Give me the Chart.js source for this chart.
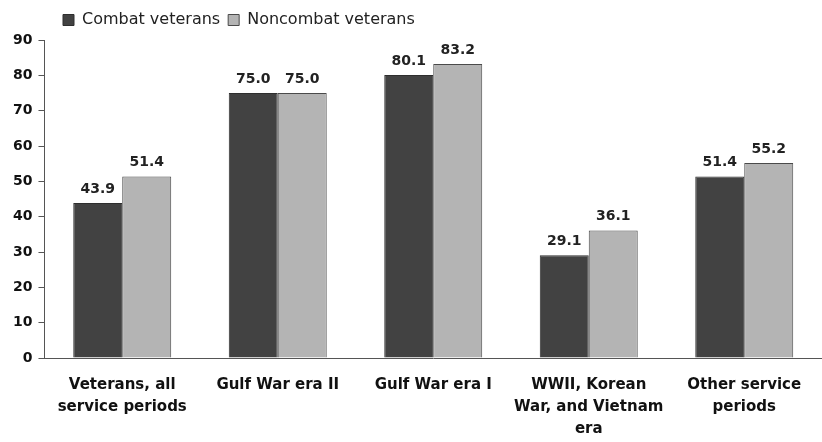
<!DOCTYPE html>
<html>
<head>
<meta charset="utf-8">
<script src="https://cdn.jsdelivr.net/npm/chart.js@4.4.1/dist/chart.umd.min.js"></script>
<style>
  html, body { margin: 0; padding: 0; background: #fff; }
  #wrap { width: 822px; height: 442px; }
</style>
</head>
<body>
<div id="wrap"><canvas id="myChart" width="822" height="442"></canvas></div>
<script>
// data
const categories = [
  ["Veterans, all", "service periods"],
  "Gulf War era II",
  "Gulf War era I",
  ["WWII, Korean", "War, and Vietnam", "era"],
  ["Other service", "periods"]
];
const combat = [43.9, 75.0, 80.1, 29.1, 51.4];
const noncombat = [51.4, 75.0, 83.2, 36.1, 55.2];
const yTicks = [0, 10, 20, 30, 40, 50, 60, 70, 80, 90];

// value labels above each bar
const valueLabels = {
  id: 'valueLabels',
  afterDatasetsDraw(chart) {
    const ctx = chart.ctx;
    ctx.save();
    ctx.font = 'bold 14px "DejaVu Sans"';
    ctx.fillStyle = '#222';
    ctx.textAlign = 'center';
    ctx.textBaseline = 'bottom';
    chart.data.datasets.forEach((ds, i) => {
      chart.getDatasetMeta(i).data.forEach((bar, j) => {
        ctx.fillText(ds.data[j].toFixed(1), bar.x, bar.y - 7);
      });
    });
    ctx.restore();
  }
};

// push the legend in line with the plot, like the original
const legendShift = {
  id: 'legendShift',
  afterLayout(chart) {
    const lg = chart.legend;
    if (lg) { lg.left += 48; lg.right += 48; lg.top -= 2; lg.bottom -= 2; }
  }
};

const data = {
  labels: categories,
  datasets: [
    {
      label: 'Combat veterans',
      data: combat,
      backgroundColor: '#424242',
      borderColor: '#2e2e2e',
      borderWidth: 1
    },
    {
      label: 'Noncombat veterans',
      data: noncombat,
      backgroundColor: '#b4b4b4',
      borderColor: '#4a4a4a',
      borderWidth: 1
    }
  ]
};

const options = {
  responsive: false,
  animation: false,
  layout: { padding: { left: 7, right: -8, top: 6, bottom: 0 } },
  datasets: {
    bar: { categoryPercentage: 0.63, barPercentage: 1.0 }
  },
  plugins: {
    legend: {
      position: 'top',
      align: 'start',
      labels: {
        boxWidth: 11,
        boxHeight: 11,
        padding: 8,
        color: '#222',
        font: { family: '"DejaVu Sans"', size: 16 }
      }
    },
    tooltip: { enabled: false }
  },
  scales: {
    x: {
      afterFit(scale) { scale.height = 84; },
      grid: { display: false, drawTicks: false },
      border: { color: '#555', width: 1 },
      ticks: {
        color: '#111',
        padding: 16,
        maxRotation: 0,
        autoSkip: false,
        font: { family: '"DejaVu Sans"', size: 15, weight: 'bold', lineHeight: 1.47 }
      }
    },
    y: {
      min: 0,
      max: 90,
      afterBuildTicks(axis) { axis.ticks = yTicks.map(v => ({ value: v })); },
      grid: { drawOnChartArea: false, tickLength: 6, color: '#555' },
      border: { color: '#555', width: 1 },
      ticks: {
        color: '#111',
        padding: 6,
        font: { family: '"DejaVu Sans"', size: 14, weight: 'bold' }
      }
    }
  }
};

const config = {
  type: 'bar',
  data,
  options,
  plugins: [valueLabels, legendShift]
};

const myChart = new Chart(document.getElementById('myChart'), config);
</script>
</body>
</html>
